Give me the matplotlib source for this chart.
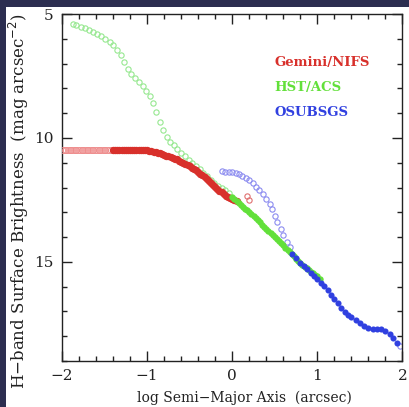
import matplotlib
matplotlib.use("Agg")
import matplotlib.pyplot as plt
from matplotlib.patches import Rectangle
from matplotlib.ticker import MultipleLocator

# HST/ACS, open (excluded) points
acs_open_x = [-1.87, -1.83, -1.78, -1.73, -1.68, -1.63, -1.585, -1.54, -1.49, -1.44,
              -1.40, -1.35, -1.31, -1.27, -1.23, -1.185, -1.14, -1.095, -1.05, -1.01,
              -0.97, -0.93, -0.89, -0.85, -0.815, -0.77, -0.73, -0.69, -0.645, -0.60,
              -0.555, -0.51, -0.47, -0.425, -0.38, -0.34, -0.295, -0.25, -0.21, -0.165,
              -0.12, -0.08, -0.04]
acs_open_y = [5.41, 5.45, 5.51, 5.57, 5.64, 5.72, 5.80, 5.89, 5.99, 6.12,
              6.27, 6.45, 6.65, 6.92, 7.22, 7.42, 7.59, 7.75, 7.92, 8.10,
              8.30, 8.60, 8.97, 9.35, 9.70, 9.95, 10.15, 10.30, 10.45, 10.60,
              10.74, 10.88, 11.00, 11.12, 11.25, 11.40, 11.55, 11.68, 11.80, 11.93,
              12.03, 12.12, 12.22]

# HST/ACS, filled
acs_x = [0.000, 0.025, 0.050, 0.075, 0.100, 0.125, 0.150, 0.175, 0.200, 0.225,
         0.250, 0.275, 0.300, 0.325, 0.350, 0.375, 0.400, 0.425, 0.450, 0.475,
         0.500, 0.525, 0.550, 0.575, 0.600, 0.625, 0.650, 0.675, 0.700, 0.725,
         0.750, 0.775, 0.800, 0.825, 0.850, 0.875, 0.900, 0.925, 0.950, 0.975,
         1.000, 1.030]
acs_y = [12.40, 12.47, 12.55, 12.64, 12.72, 12.79, 12.85, 12.91, 12.98, 13.06,
         13.15, 13.23, 13.32, 13.41, 13.50, 13.58, 13.66, 13.75, 13.83, 13.92,
         14.00, 14.08, 14.17, 14.25, 14.34, 14.43, 14.52, 14.61, 14.70, 14.78,
         14.87, 14.95, 15.03, 15.11, 15.19, 15.26, 15.33, 15.39, 15.45, 15.52,
         15.58, 15.68]

# Gemini/NIFS, open (inner, unresolved)
nifs_open_x = [-1.99, -1.97, -1.95, -1.93, -1.91, -1.89, -1.87, -1.85, -1.83, -1.81,
               -1.79, -1.77, -1.75, -1.73, -1.71, -1.69, -1.67, -1.65, -1.63, -1.61,
               -1.59, -1.57, -1.55, -1.53, -1.51, -1.49, -1.47, -1.45, -1.43, 0.17, 0.20]
nifs_open_y = [10.47] * 29 + [12.35, 12.50]

# Gemini/NIFS, filled
nifs_x = [-1.400, -1.375, -1.350, -1.325, -1.300, -1.275, -1.250, -1.225, -1.200, -1.175,
          -1.150, -1.125, -1.100, -1.075, -1.050, -1.025, -1.000, -0.975, -0.950, -0.925,
          -0.900, -0.875, -0.850, -0.825, -0.800, -0.775, -0.750, -0.725, -0.700, -0.675,
          -0.650, -0.625, -0.600, -0.575, -0.550, -0.525, -0.500, -0.475, -0.450, -0.425,
          -0.400, -0.375, -0.350, -0.325, -0.300, -0.275, -0.250, -0.225, -0.200, -0.175,
          -0.150, -0.125, -0.100, -0.075, -0.050, -0.025, 0.000, 0.025, 0.050]
nifs_y = [10.47, 10.47, 10.47, 10.47, 10.47, 10.47, 10.47, 10.47, 10.47, 10.48,
          10.48, 10.48, 10.48, 10.49, 10.49, 10.50, 10.50, 10.52, 10.53, 10.55,
          10.57, 10.60, 10.62, 10.65, 10.68, 10.71, 10.74, 10.77, 10.80, 10.84,
          10.87, 10.92, 10.96, 11.00, 11.05, 11.10, 11.15, 11.21, 11.26, 11.31,
          11.37, 11.44, 11.50, 11.58, 11.65, 11.74, 11.82, 11.90, 11.98, 12.06,
          12.13, 12.20, 12.27, 12.33, 12.38, 12.42, 12.45, 12.50, 12.55]

# OSUBSGS, open
osu_open_x = [-0.12, -0.08, -0.04, 0.00, 0.04, 0.08, 0.12, 0.16, 0.20, 0.24, 0.28,
              0.32, 0.36, 0.40, 0.44, 0.47, 0.50, 0.53, 0.57, 0.60, 0.64, 0.68, 1.97]
osu_open_y = [11.35, 11.36, 11.37, 11.39, 11.42, 11.46, 11.52, 11.60, 11.70, 11.83, 11.97,
              12.12, 12.28, 12.47, 12.68, 12.88, 13.13, 13.40, 13.68, 13.93, 14.18, 14.42, 18.39]

# OSUBSGS, filled
osu_x = [0.70, 0.75, 0.80, 0.84, 0.88, 0.92, 0.96, 1.00, 1.04, 1.08, 1.12, 1.16,
         1.20, 1.24, 1.28, 1.32, 1.36, 1.40, 1.45, 1.50, 1.55, 1.60, 1.65, 1.70,
         1.75, 1.80, 1.85, 1.89, 1.93]
osu_y = [14.70, 14.86, 15.03, 15.17, 15.30, 15.44, 15.57, 15.71, 15.85, 15.98, 16.14, 16.33,
         16.50, 16.67, 16.85, 17.01, 17.13, 17.24, 17.35, 17.46, 17.57, 17.65, 17.69, 17.69,
         17.71, 17.78, 17.90, 18.07, 18.28]

labels = ['Gemini/NIFS', 'HST/ACS', 'OSUBSGS']
colores = ['#d8302b', '#62e03a', '#3040e0']

plt.rcParams['font.family'] = ['DejaVu Serif']

fig = plt.figure(figsize=(4.10, 4.07), dpi=100)
fig.patch.set_facecolor('#2c2e50')
# zona blanca (la diapositiva deja un borde oscuro arriba y a la izquierda)
fig.patches.append(Rectangle((6 / 410, 0), 1, 1 - 7 / 407, transform=fig.transFigure,
                             facecolor='white', edgecolor='none', zorder=-10))

ax = fig.add_axes([62 / 410, 1 - 361 / 407, 340.5 / 410, 347 / 407])
ax.set_facecolor('white')

ax.plot(acs_open_x, acs_open_y, 'o', mfc='none', mec='#96e890', ms=3.8, mew=0.8, zorder=2)
ax.plot(osu_open_x, osu_open_y, 'o', mfc='none', mec='#8c8cf0', ms=3.8, mew=0.8, zorder=2)
ax.plot(nifs_open_x[:29], nifs_open_y[:29], 'o', mfc='none', mec='#ee8c8c', ms=4.4, mew=0.6, zorder=3)
ax.plot(nifs_open_x[29:], nifs_open_y[29:], 'o', mfc='none', mec='#e07070', ms=3.8, mew=0.8, zorder=3)
ax.plot(nifs_x, nifs_y, 'o', color=colores[0], ms=5.3, mew=0, zorder=4)
ax.plot(acs_x, acs_y, 'o', color=colores[1], ms=4.6, mew=0, zorder=4)
ax.plot(osu_x, osu_y, 'o', color=colores[2], ms=4.4, mew=0, zorder=5)

for i, (txt, c) in enumerate(zip(labels, colores)):
    ax.text(0.5, 6.96 + i * 1.0, txt, color=c, fontsize=9.5, fontweight='bold',
            va='center', ha='left')

ax.set_xlim(-2, 2)
ax.set_ylim(19, 5)
ax.xaxis.set_major_locator(MultipleLocator(1))
ax.xaxis.set_minor_locator(MultipleLocator(0.2))
ax.yaxis.set_major_locator(MultipleLocator(5))
ax.yaxis.set_minor_locator(MultipleLocator(1))
ax.tick_params(which='both', direction='in', top=True, right=True, width=1.0,
               labelsize=11, colors='#222222')
ax.tick_params(which='major', length=7, pad=6)
ax.tick_params(which='minor', length=3.6)
ax.set_xticks([-2, -1, 0, 1, 2])
ax.set_xticklabels(['\u22122', '\u22121', '0', '1', '2'])
for s in ax.spines.values():
    s.set_linewidth(1.0)
    s.set_color('#222222')

ax.set_xlabel('log Semi\u2212Major Axis  (arcsec)', fontsize=10, color='#222222')
ax.set_ylabel('H\u2212band Surface Brightness  (mag arcsec$^{-2}$)', fontsize=12,
              color='#222222')
ax.xaxis.set_label_coords(0.5365, -0.107)
ax.xaxis.label.set_va('center')
ax.yaxis.set_label_coords(-0.126, 0.46)
ax.yaxis.label.set_va('center')

fig.savefig('out.png', dpi=100, facecolor=fig.get_facecolor())
